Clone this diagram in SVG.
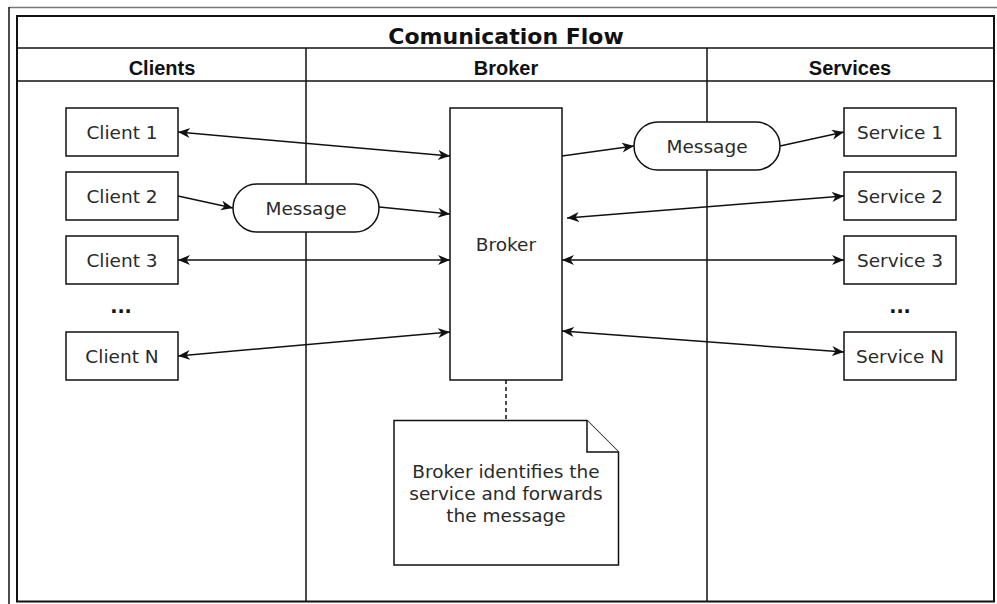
<svg xmlns="http://www.w3.org/2000/svg" width="997" height="604" viewBox="0 0 997 604">
  <style>
    .frame { fill: none; stroke: #111; stroke-width: 2; }
    .lane { fill: none; stroke: #111; stroke-width: 1.5; }
    .box { fill: #fff; stroke: #111; stroke-width: 1.5; }
    .edge { fill: none; stroke: #111; stroke-width: 1.5; }
    .title { font-family: "DejaVu Sans", sans-serif; font-weight: bold; font-size: 22px; fill: #111; text-anchor: middle; }
    .head { font-family: "Liberation Sans", Arial, sans-serif; font-weight: bold; font-size: 20px; fill: #111; text-anchor: middle; }
    .label { font-family: "DejaVu Sans", sans-serif; font-size: 18.5px; fill: #2a2a2a; text-anchor: middle; }
    .dots { font-family: "DejaVu Sans", sans-serif; font-weight: bold; font-size: 19px; fill: #111; text-anchor: middle; }
  </style>
  <defs>
    <marker id="arrow" markerUnits="userSpaceOnUse" markerWidth="14" markerHeight="12" refX="12" refY="5" orient="auto-start-reverse">
      <path d="M0,0 L12,5 L0,10 L3.5,5 z" fill="#111"/>
    </marker>
  </defs>

  <rect width="997" height="604" fill="#fff"/>

  <!-- outer border edges -->
  <line x1="9" y1="7.5" x2="997" y2="7.5" stroke="#777" stroke-width="1.5"/>
  <line x1="9" y1="7" x2="9" y2="604" stroke="#111" stroke-width="1.5"/>

  <!-- pool with title and three lanes -->
  <g id="pool">
    <rect class="frame" x="17" y="16" width="977" height="585.5"/>
    <line class="lane" x1="17" y1="48" x2="994" y2="48"/>
    <line class="lane" x1="17" y1="81" x2="994" y2="81"/>
    <line class="lane" x1="306" y1="48" x2="306" y2="601"/>
    <line class="lane" x1="707" y1="48" x2="707" y2="601"/>
    <text class="title" x="506" y="44">Comunication Flow</text>
    <text class="head" x="162" y="75">Clients</text>
    <text class="head" x="506" y="75">Broker</text>
    <text class="head" x="850" y="75">Services</text>
  </g>

  <!-- connectors -->
  <g id="connectors">
    <line class="edge" x1="178" y1="132" x2="450" y2="156" marker-start="url(#arrow)" marker-end="url(#arrow)"/>
    <line class="edge" x1="178" y1="196" x2="233" y2="208" marker-end="url(#arrow)"/>
    <line class="edge" x1="379" y1="207" x2="450" y2="214" marker-end="url(#arrow)"/>
    <line class="edge" x1="178" y1="260" x2="450" y2="260" marker-start="url(#arrow)" marker-end="url(#arrow)"/>
    <line class="edge" x1="178" y1="356" x2="450" y2="332" marker-start="url(#arrow)" marker-end="url(#arrow)"/>
    <line class="edge" x1="562" y1="156" x2="634" y2="146" marker-end="url(#arrow)"/>
    <line class="edge" x1="780" y1="146" x2="844" y2="132" marker-end="url(#arrow)"/>
    <line class="edge" x1="567" y1="218" x2="844" y2="196" marker-start="url(#arrow)" marker-end="url(#arrow)"/>
    <line class="edge" x1="562" y1="260" x2="844" y2="260" marker-start="url(#arrow)" marker-end="url(#arrow)"/>
    <line class="edge" x1="562" y1="331" x2="844" y2="352" marker-start="url(#arrow)" marker-end="url(#arrow)"/>
    <line class="edge" x1="506" y1="380" x2="506" y2="420" stroke-dasharray="4 3"/>
  </g>

  <!-- clients -->
  <g id="client1"><rect class="box" x="66" y="108" width="112" height="48"/><text class="label" x="122" y="139">Client 1</text></g>
  <g id="client2"><rect class="box" x="66" y="172" width="112" height="48"/><text class="label" x="122" y="203">Client 2</text></g>
  <g id="client3"><rect class="box" x="66" y="236" width="112" height="48"/><text class="label" x="122" y="267">Client 3</text></g>
  <g id="client-dots"><text class="dots" x="121" y="313">...</text></g>
  <g id="clientN"><rect class="box" x="66" y="332" width="112" height="48"/><text class="label" x="122" y="363">Client N</text></g>

  <!-- messages -->
  <g id="message-in"><rect class="box" x="233" y="184" width="146" height="48" rx="24" ry="24"/><text class="label" x="306" y="215">Message</text></g>
  <g id="message-out"><rect class="box" x="634" y="122" width="146" height="48" rx="24" ry="24"/><text class="label" x="707" y="153">Message</text></g>

  <!-- broker -->
  <g id="broker"><rect class="box" x="450" y="108" width="112" height="272"/><text class="label" x="506" y="251">Broker</text></g>

  <!-- services -->
  <g id="service1"><rect class="box" x="844" y="108" width="112" height="48"/><text class="label" x="900" y="139">Service 1</text></g>
  <g id="service2"><rect class="box" x="844" y="172" width="112" height="48"/><text class="label" x="900" y="203">Service 2</text></g>
  <g id="service3"><rect class="box" x="844" y="236" width="112" height="48"/><text class="label" x="900" y="267">Service 3</text></g>
  <g id="service-dots"><text class="dots" x="900" y="313">...</text></g>
  <g id="serviceN"><rect class="box" x="844" y="332" width="112" height="48"/><text class="label" x="900" y="363">Service N</text></g>

  <!-- note -->
  <g id="note">
    <path class="box" d="M394,420.5 H587 L618.5,452 V565 H394 Z"/>
    <path class="box" d="M587,420.5 V452 H618.5"/>
    <text class="label" x="506" y="478">Broker identifies the</text>
    <text class="label" x="506" y="500">service and forwards</text>
    <text class="label" x="506" y="522">the message</text>
  </g>
</svg>
